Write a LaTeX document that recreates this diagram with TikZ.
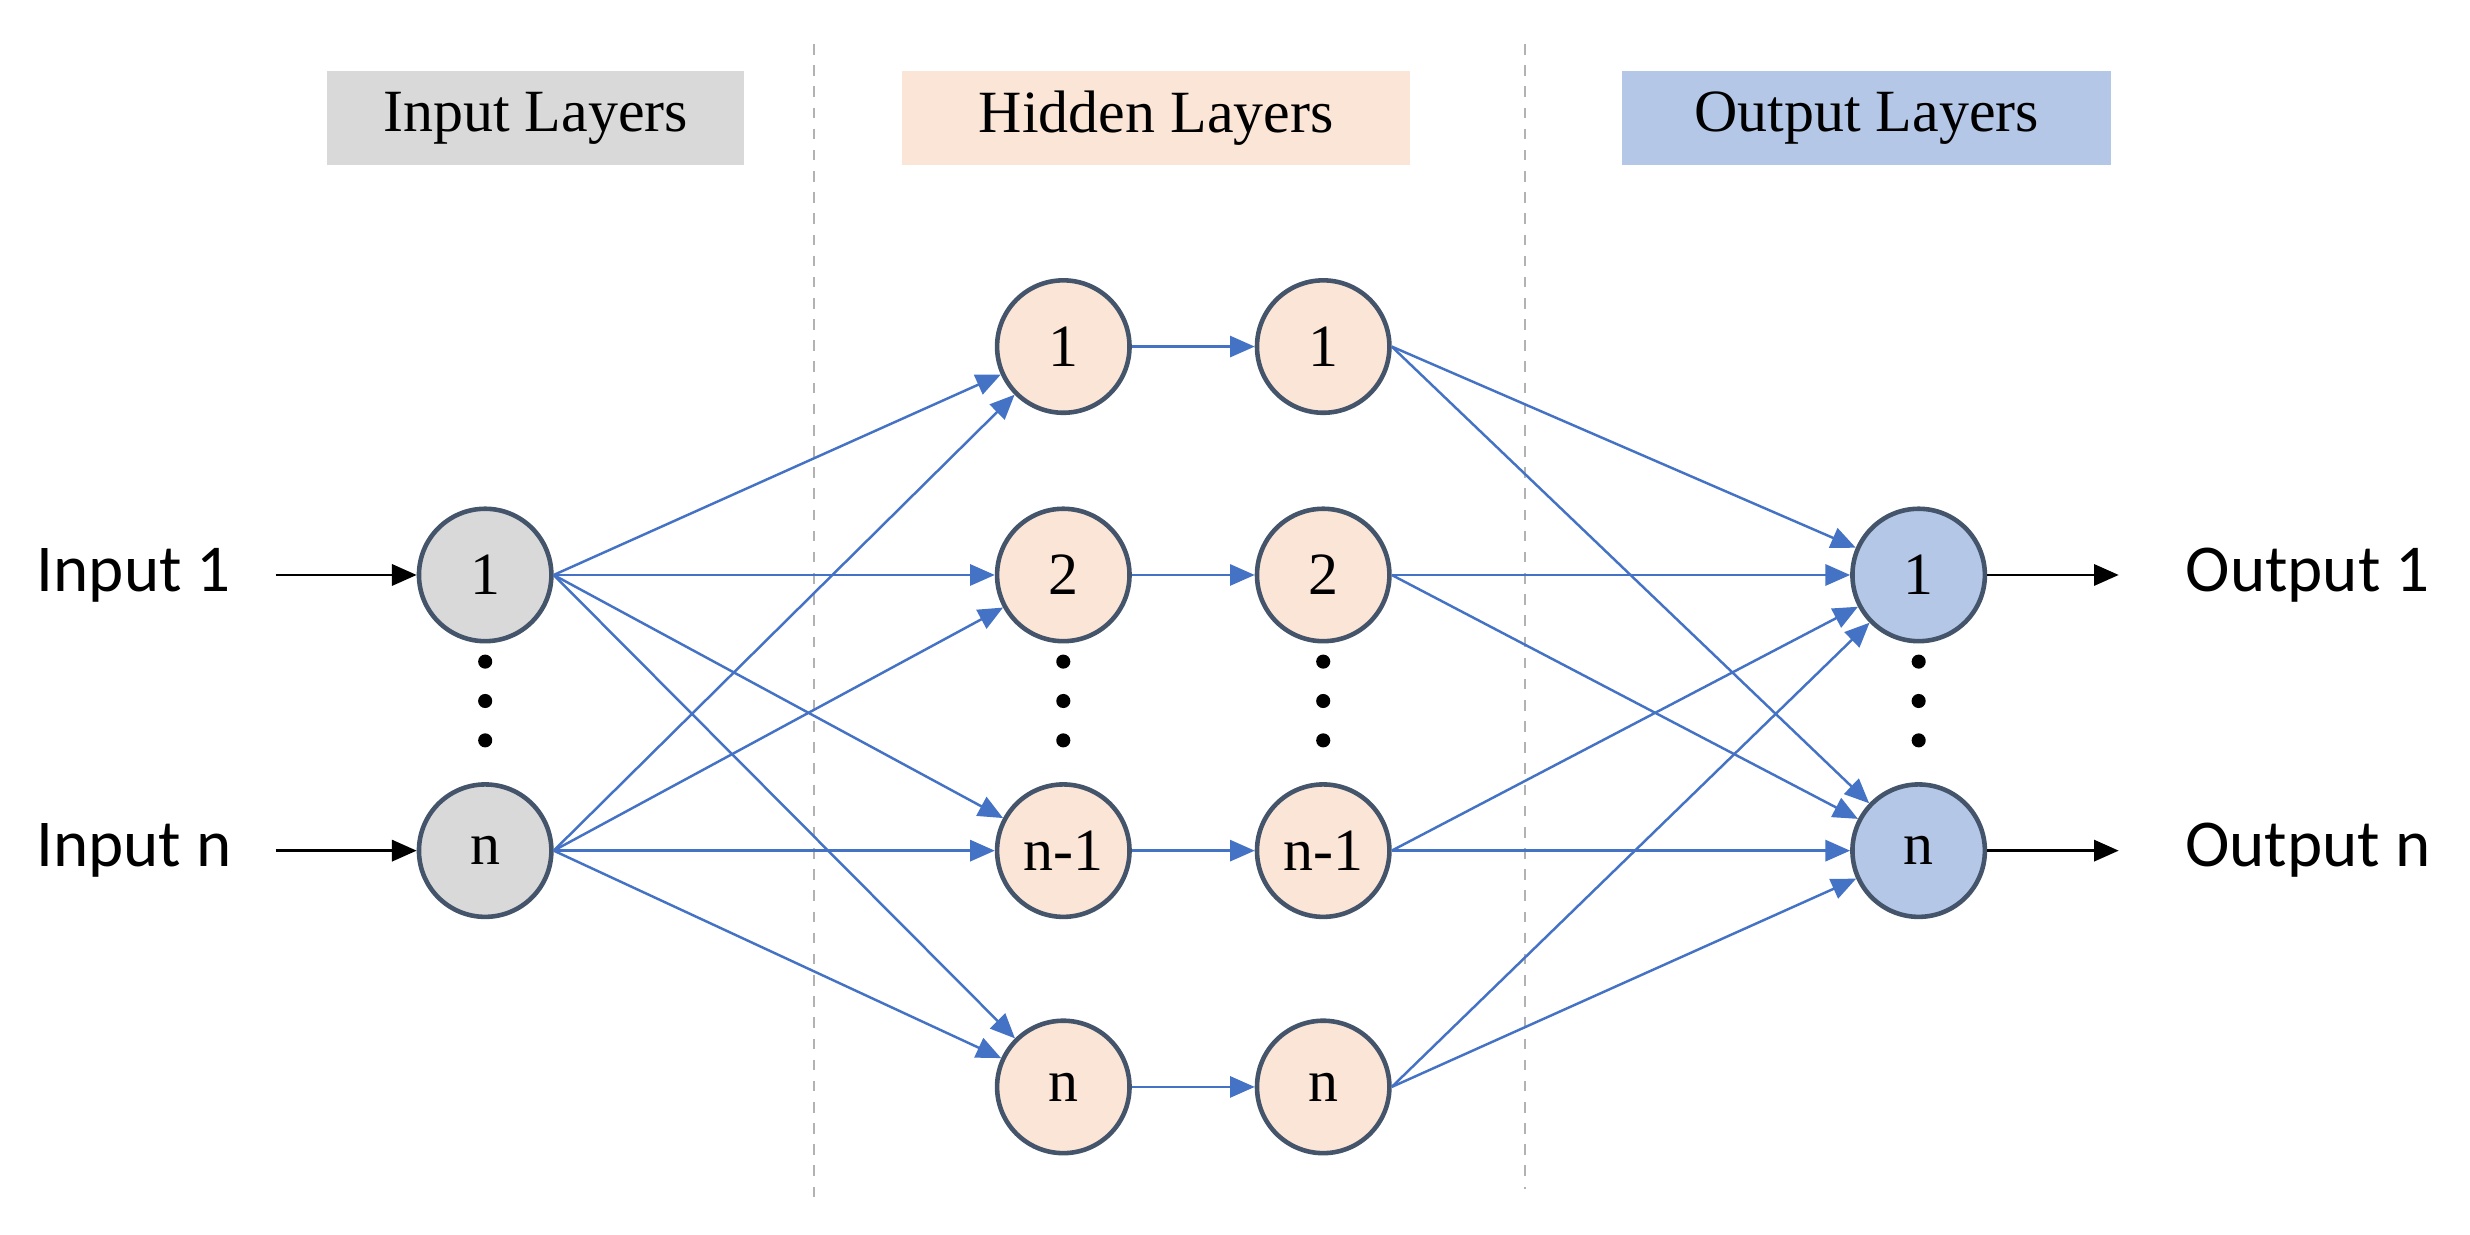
\documentclass[tikz,border=0pt]{standalone}
\usepackage{fontspec}
\setmainfont{Liberation Serif}
\newfontfamily\calfnt{Carlito}
\usetikzlibrary{arrows.meta}
\definecolor{ingray}{HTML}{D9D9D9}
\definecolor{hid}{HTML}{FBE5D6}
\definecolor{outb}{HTML}{B4C7E7}
\definecolor{edge}{HTML}{4472C4}
\definecolor{bord}{HTML}{44546A}
\begin{document}
\begin{tikzpicture}[x=0.0157cm,y=-0.0157cm,
 nd/.style={circle,draw=bord,line width=1.3pt,minimum size=1.32cm,inner sep=0pt,font=\fontsize{17}{17}\selectfont},
 hd/.style={minimum width=#1,minimum height=0.94cm,font=\fontsize{17}{17}\selectfont},
 e/.style={draw=edge,line width=0.7pt,-{Triangle[length=7pt,width=6pt]}},
 k/.style={draw=black,line width=0.8pt,-{Triangle[length=7pt,width=6pt]}},
 lab/.style={font=\calfnt\fontsize{19}{19}\selectfont},
 dot/.style={circle,fill=black,inner sep=0pt,minimum size=4pt}]
\useasboundingbox (0,0) rectangle (1568,784);
\draw[gray!60,dashed,line width=0.6pt] (517,28) -- (517,762);
\draw[gray!60,dashed,line width=0.6pt] (968,28) -- (968,755);
\node[hd=4.16cm,fill=ingray] (hin) at (340,75) {Input Layers};
\node[hd=5.06cm,fill=hid] (hhid) at (734,75) {Hidden Layers};
\node[hd=4.87cm,fill=outb] (hout) at (1185,75) {Output Layers};
\node[nd,fill=ingray] (i1) at (308,365) {1};
\node[nd,fill=ingray] (in) at (308,540) {n};
\foreach \c/\x in {a/675,b/840}{
 \node[nd,fill=hid] (\c1) at (\x,220) {1};
 \node[nd,fill=hid] (\c2) at (\x,365) {2};
 \node[nd,fill=hid] (\c3) at (\x,540) {n-1};
 \node[nd,fill=hid] (\c4) at (\x,690) {n};
 \foreach \yy/\nm in {420/d1,445/d2,470/d3} \node[dot] (\c\nm) at (\x,\yy) {};
}
\foreach \yy/\nm in {420/d1,445/d2,470/d3} \node[dot] (i\nm) at (308,\yy) {};
\foreach \yy/\nm in {420/d1,445/d2,470/d3} \node[dot] (o\nm) at (1218,\yy) {};
\node[nd,fill=outb] (o1) at (1218,365) {1};
\node[nd,fill=outb] (on) at (1218,540) {n};
\node[lab] (l1) at (85,365) {Input 1};
\node[lab] (ln) at (85,540) {Input n};
\node[lab] (r1) at (1465,365) {Output 1};
\node[lab] (rn) at (1465,540) {Output n};
\coordinate (s1) at (175,365); \coordinate (s2) at (175,540);
\draw[k] (s1) -- (i1);
\draw[k] (s2) -- (in);
\coordinate (t1) at (1345,365); \coordinate (t2) at (1345,540);
\draw[k] (o1) -- (t1);
\draw[k] (on) -- (t2);
\foreach \s in {i1,in} \foreach \t in {a1,a2,a3,a4} \draw[e] (\s.east) -- (\t);
\foreach \j in {1,2,3,4} \draw[e] (a\j) -- (b\j);
\foreach \j in {1,2,3,4} \foreach \t in {o1,on} \draw[e] (b\j.east) -- (\t);
\end{tikzpicture}
\end{document}
